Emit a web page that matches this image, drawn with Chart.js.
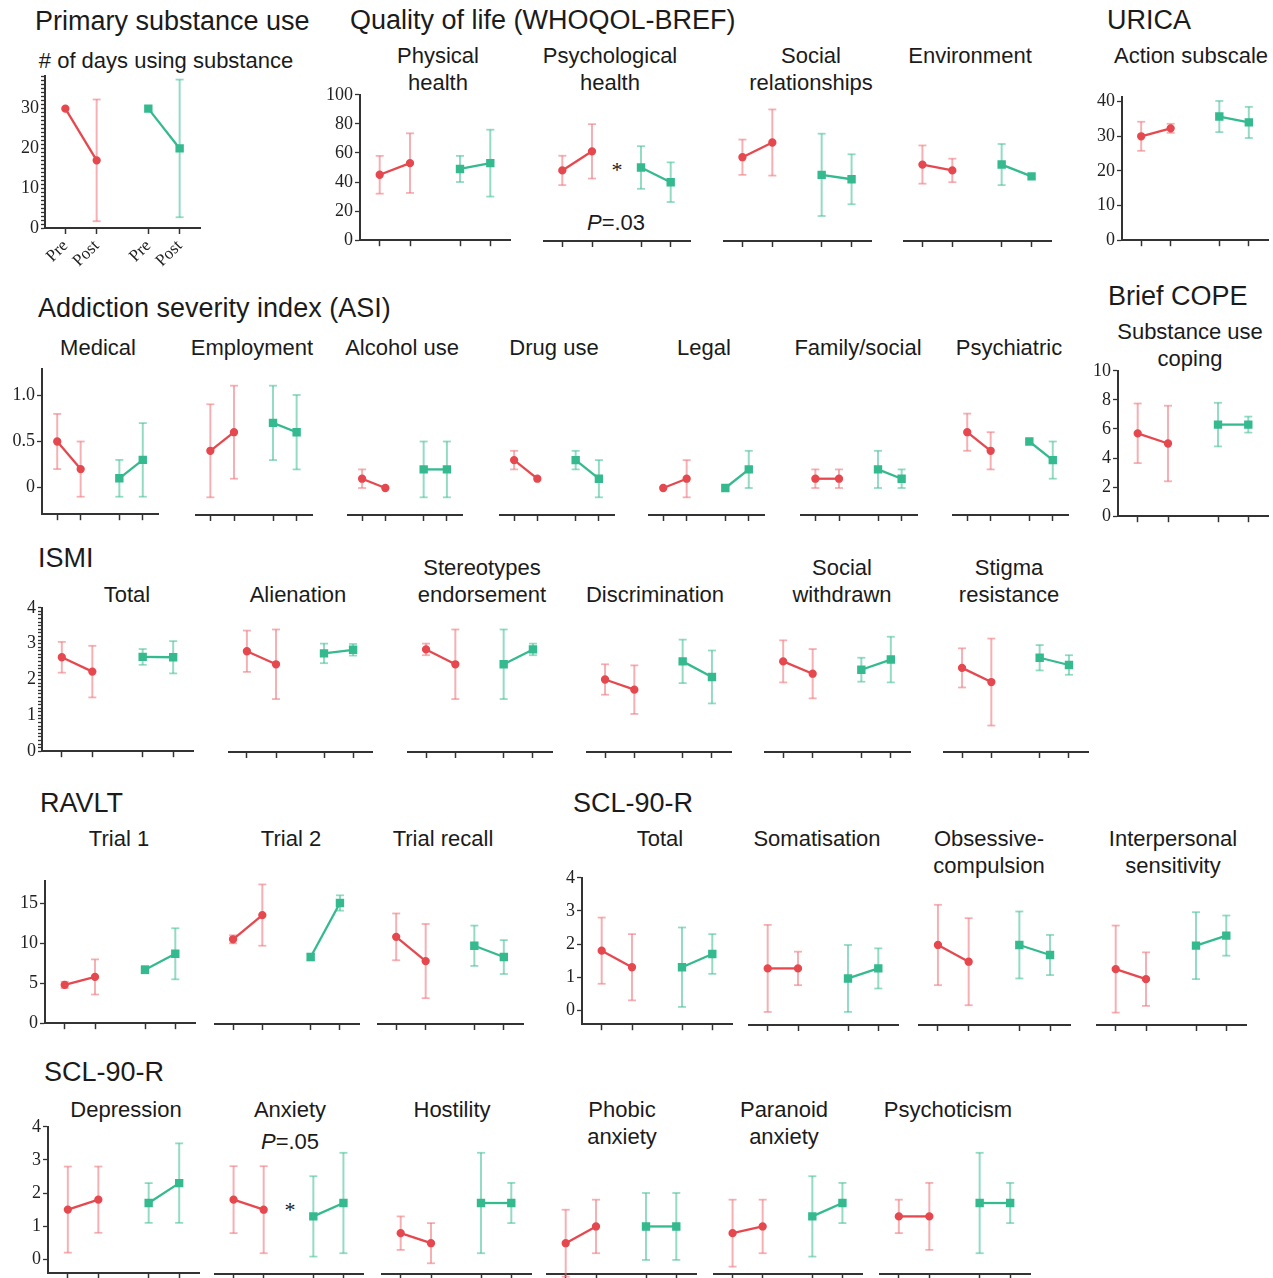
<!DOCTYPE html>
<html lang="en">
<head>
    <meta charset="UTF-8">
    <title>Pre/Post outcome scores</title>
    <script src="https://cdn.jsdelivr.net/npm/chart.js"></script>
    <style>
        body { margin: 0; background: #fff; }
        #fig { position: relative; width: 1273px; height: 1278px; overflow: hidden;
               font-family: "Liberation Sans", Arial, sans-serif; color: #1b1b1b; }
        #fig canvas { position: absolute; }
        .t { position: absolute; white-space: nowrap; }
        .sec { font-size: 27px; line-height: 26px; }
        .sub { font-size: 22px; line-height: 27px; text-align: center; transform: translateX(-50%); }
        .ast { font-family: "Liberation Serif", serif; font-size: 22px; line-height: 22px; transform: translateX(-50%); }
    </style>
</head>
<body>
<div id="fig"></div>

<script>
    // ---- data ----
    const xTickLabels = ['Pre', 'Post', 'Pre', 'Post'];
    const xPositions = [1, 2, 3.65, 4.65];

    const sectionTitles = ['Primary substance use', 'Quality of life (WHOQOL-BREF)', 'URICA',
        'Addiction severity index (ASI)', 'Brief COPE', 'ISMI', 'RAVLT', 'SCL-90-R', 'SCL-90-R'];

    const panelTitles = ['# of days using substance', 'Physical\nhealth', 'Psychological\nhealth',
        'Social\nrelationships', 'Environment', 'Action subscale',
        'Medical', 'Employment', 'Alcohol use', 'Drug use', 'Legal', 'Family/social', 'Psychiatric',
        'Substance use\ncoping',
        'Total', 'Alienation', 'Stereotypes\nendorsement', 'Discrimination', 'Social\nwithdrawn', 'Stigma\nresistance',
        'Trial 1', 'Trial 2', 'Trial recall',
        'Total', 'Somatisation', 'Obsessive-\ncompulsion', 'Interpersonal\nsensitivity',
        'Depression', 'Anxiety', 'Hostility', 'Phobic\nanxiety', 'Paranoid\nanxiety', 'Psychoticism'];

    const redPre      = [30, 45, 48, 57, 52, 30, 0.5, 0.4, 0.1, 0.3, 0, 0.1, 0.6, 5.7, 2.62, 2.78, 2.83, 2.0, 2.5, 2.32, 4.8, 10.5, 10.8, 1.8, 1.27, 1.97, 1.25, 1.5, 1.8, 0.8, 0.5, 0.8, 1.3];
    const redPreSd    = [0, 13, 10, 12, 13, 4.2, 0.3, 0.5, 0.1, 0.1, 0, 0.1, 0.2, 2.05, 0.43, 0.57, 0.16, 0.42, 0.58, 0.54, 0.4, 0.5, 2.9, 1.0, 1.3, 1.2, 1.3, 1.3, 1.0, 0.5, 1.0, 1.0, 0.5];
    const redPost     = [17, 53, 61, 67, 48, 32.3, 0.2, 0.6, 0, 0.1, 0.1, 0.1, 0.4, 5.0, 2.22, 2.42, 2.42, 1.72, 2.16, 1.93, 5.8, 13.5, 7.8, 1.3, 1.27, 1.47, 0.95, 1.8, 1.5, 0.5, 1.0, 1.0, 1.3];
    const redPostSd   = [15.3, 20.5, 18.5, 22.5, 8, 1.3, 0.3, 0.5, 0, 0, 0.2, 0.1, 0.2, 2.6, 0.72, 0.96, 0.96, 0.67, 0.68, 1.2, 2.2, 3.8, 4.6, 1.0, 0.5, 1.3, 0.8, 1.0, 1.3, 0.6, 0.8, 0.8, 1.0];
    const greenPre    = [30, 49, 50, 45, 52, 35.7, 0.1, 0.7, 0.2, 0.3, 0, 0.2, 0.5, 6.3, 2.63, 2.72, 2.42, 2.5, 2.27, 2.6, 6.7, 8.3, 9.7, 1.3, 0.97, 1.97, 1.95, 1.7, 1.3, 1.7, 1.0, 1.3, 1.7];
    const greenPreSd  = [0, 9, 14.5, 28, 14, 4.5, 0.2, 0.4, 0.3, 0.1, 0, 0.2, 0, 1.5, 0.22, 0.27, 0.96, 0.6, 0.33, 0.35, 0.45, 0.4, 2.5, 1.2, 1.0, 1.0, 1.0, 0.6, 1.2, 1.5, 1.0, 1.2, 1.5];
    const greenPost   = [20, 53, 40, 42, 44, 34, 0.3, 0.6, 0.2, 0.1, 0.2, 0.1, 0.3, 6.3, 2.62, 2.82, 2.83, 2.07, 2.55, 2.4, 8.7, 15.0, 8.3, 1.7, 1.27, 1.67, 2.25, 2.3, 1.7, 1.7, 1.0, 1.7, 1.7];
    const greenPostSd = [17.3, 23, 13.5, 17, 0, 4.5, 0.4, 0.4, 0.3, 0.2, 0.2, 0.1, 0.2, 0.55, 0.45, 0.16, 0.16, 0.73, 0.63, 0.27, 3.2, 0.95, 2.1, 0.6, 0.6, 0.6, 0.6, 1.2, 1.5, 0.6, 1.0, 0.6, 0.6];

    const daysTicks = [0, 10, 20, 30];
    const qolTicks = [0, 20, 40, 60, 80, 100];
    const uricaTicks = [0, 10, 20, 30, 40];
    const asiTicks = [0, 0.5, 1];
    const asiTickLabels = ['0', '0.5', '1.0'];
    const copeTicks = [0, 2, 4, 6, 8, 10];
    const ismiTicks = [0, 1, 2, 3, 4];
    const ravltTicks = [0, 5, 10, 15];
    const sclTicks = [0, 1, 2, 3, 4];

    const pNotes = ['.03', '.05'];

    // ---- layout & style ----
    const RED = '#e5484e', RED_ERR = 'rgba(238,112,117,0.55)';
    const GREEN = '#35ba8f', GREEN_ERR = 'rgba(60,190,148,0.55)';
    const AXIS = '#333';

    const axisGroups = {
        days:  { top: 75,   bottom: 228,  min: 0,     max: 38.25, ticks: daysTicks, minor: 1 },
        qol:   { top: 94,   bottom: 241,  min: 0,     max: 100,   ticks: qolTicks },
        urica: { top: 96,   bottom: 241,  min: 0,     max: 41.4,  ticks: uricaTicks },
        asi:   { top: 368,  bottom: 515,  min: -0.29, max: 1.29,  ticks: asiTicks, labels: asiTickLabels },
        cope:  { top: 370,  bottom: 517,  min: 0,     max: 10,    ticks: copeTicks },
        ismi:  { top: 607,  bottom: 752,  min: 0,     max: 4,     ticks: ismiTicks, minor: 0.1 },
        ravlt: { top: 880,  bottom: 1024, min: 0,     max: 17.85, ticks: ravltTicks },
        scl4:  { top: 877,  bottom: 1025, min: -0.42, max: 4,     ticks: sclTicks },
        scl5:  { top: 1126, bottom: 1274, min: -0.42, max: 4,     ticks: sclTicks }
    };

    // [axis line left, axis line right, group, show y axis]
    const panelBoxes = [
        [45, 200, 'days', true],
        [360, 510, 'qol', true], [543, 690, 'qol', false], [723, 871, 'qol', false], [903, 1051, 'qol', false],
        [1122, 1268, 'urica', true],
        [42, 158, 'asi', true], [195, 312, 'asi', false], [347, 462, 'asi', false], [499, 614, 'asi', false],
        [648, 764, 'asi', false], [800, 917, 'asi', false], [952, 1068, 'asi', false],
        [1118, 1268, 'cope', true],
        [42, 193, 'ismi', true], [228, 372, 'ismi', false], [407, 552, 'ismi', false],
        [586, 731, 'ismi', false], [764, 910, 'ismi', false], [943, 1088, 'ismi', false],
        [45, 195, 'ravlt', true], [214, 359, 'ravlt', false], [377, 523, 'ravlt', false],
        [582, 732, 'scl4', true], [748, 898, 'scl4', false], [918, 1070, 'scl4', false], [1096, 1246, 'scl4', false],
        [48, 199, 'scl5', true], [214, 363, 'scl5', false], [381, 531, 'scl5', false],
        [546, 696, 'scl5', false], [713, 862, 'scl5', false], [879, 1030, 'scl5', false]
    ];

    const sectionPos = [[35, 21], [350, 20], [1107, 20], [38, 308], [1108, 296], [38, 558], [40, 803], [573, 803], [44, 1072]];
    const panelTitlePos = [
        [166, 60], [438, 55], [610, 55], [811, 55], [970, 55], [1191, 55],
        [98, 347], [252, 347], [402, 347], [554, 347], [704, 347], [858, 347], [1009, 347],
        [1190, 331],
        [127, 594], [298, 594], [482, 567], [655, 594], [842, 567], [1009, 567],
        [119, 838], [291, 838], [443, 838],
        [660, 838], [817, 838], [989, 838], [1173, 838],
        [126, 1109], [290, 1109], [452, 1109], [622, 1109], [784, 1109], [948, 1109]
    ];
    const pNotePos = [[616, 222], [290, 1141]];
    const asteriskPos = [[617, 170], [290, 1210]];

    const fig = document.getElementById('fig');

    function addText(cls, html, x, y, lh) {
        const d = document.createElement('div');
        d.className = 't ' + cls;
        d.innerHTML = html;
        d.style.left = x + 'px';
        d.style.top = (y - lh / 2) + 'px';
        fig.appendChild(d);
    }

    sectionTitles.forEach((s, i) => addText('sec', s, sectionPos[i][0], sectionPos[i][1], 26));
    panelTitles.forEach((s, i) => addText('sub', s.replace('\n', '<br>'), panelTitlePos[i][0], panelTitlePos[i][1], 27));
    pNotes.forEach((s, i) => addText('sub', '<i>P</i>=' + s, pNotePos[i][0], pNotePos[i][1], 27));
    asteriskPos.forEach(p => addText('ast', '*', p[0], p[1], 22));

    Chart.defaults.font.family = '"Liberation Serif", "Times New Roman", serif';
    Chart.defaults.font.size = 18;
    Chart.defaults.color = '#222';

    function errorBar(x, m, sd, color) {
        return {
            data: [{ x: x, y: m - sd }, { x: x, y: m + sd }],
            showLine: true,
            borderColor: color,
            borderWidth: 2,
            pointStyle: 'line',
            pointRadius: 4,
            pointBorderColor: color,
            pointBorderWidth: 1.8,
            clip: false
        };
    }

    panelBoxes.forEach((box, i) => {
        const [left, right, gName, showY] = box;
        const g = axisGroups[gName];
        const showX = gName === 'days';
        const YW = showY ? 50 : 0;
        const PT = 12, PR = 14;
        const XH = showX ? 52 : 12;

        const canvas = document.createElement('canvas');
        canvas.width = right - left + YW + PR;
        canvas.height = g.bottom - g.top + PT + XH;
        canvas.style.left = (left - YW) + 'px';
        canvas.style.top = (g.top - PT) + 'px';
        fig.appendChild(canvas);

        // means first so they are drawn on top of the error bars
        const datasets = [
            {
                data: [{ x: xPositions[0], y: redPre[i] }, { x: xPositions[1], y: redPost[i] }],
                showLine: true, borderColor: RED, borderWidth: 2.3,
                pointStyle: 'circle', pointRadius: 3, pointBackgroundColor: RED, pointBorderColor: RED,
                clip: false
            },
            {
                data: [{ x: xPositions[2], y: greenPre[i] }, { x: xPositions[3], y: greenPost[i] }],
                showLine: true, borderColor: GREEN, borderWidth: 2.3,
                pointStyle: 'rect', pointRadius: 4.3, pointBackgroundColor: GREEN, pointBorderColor: GREEN,
                clip: false
            }
        ];
        [[redPre, redPreSd, RED_ERR], [redPost, redPostSd, RED_ERR],
         [greenPre, greenPreSd, GREEN_ERR], [greenPost, greenPostSd, GREEN_ERR]].forEach((s, k) => {
            if (s[1][i] > 0) datasets.push(errorBar(xPositions[k], s[0][i], s[1][i], s[2]));
        });

        new Chart(canvas, {
            type: 'scatter',
            data: { datasets },
            options: {
                responsive: false,
                animation: false,
                events: [],
                layout: { padding: { top: PT, right: PR, left: 0, bottom: 0 }, autoPadding: false },
                plugins: { legend: { display: false }, tooltip: { enabled: false } },
                scales: {
                    x: {
                        type: 'linear',
                        min: 0.35, max: 5.3,
                        bounds: 'data',
                        afterBuildTicks: s => { s.ticks = xPositions.map(v => ({ value: v })); },
                        afterFit: s => { s.height = XH; },
                        border: { display: true, color: AXIS, width: 2 },
                        grid: { drawOnChartArea: false, drawTicks: true, tickLength: 6, tickColor: AXIS, tickWidth: 1.5 },
                        ticks: {
                            display: showX,
                            autoSkip: false,
                            minRotation: 45, maxRotation: 45,
                            padding: 2,
                            font: { size: 17 },
                            callback: (v, idx) => xTickLabels[idx]
                        }
                    },
                    y: {
                        display: showY,
                        min: g.min, max: g.max,
                        bounds: 'data',
                        afterBuildTicks: s => {
                            let vals = g.ticks.slice();
                            if (g.minor) {
                                vals = [];
                                const n = Math.floor((g.max - g.min) / g.minor + 1e-6);
                                for (let k = 0; k <= n; k++) vals.push(+(g.min + k * g.minor).toFixed(3));
                            }
                            s.ticks = vals.map(v => ({ value: v }));
                        },
                        afterFit: s => { s.width = YW; },
                        border: { display: true, color: AXIS, width: 2 },
                        grid: { drawOnChartArea: false, drawTicks: true, tickLength: g.minor ? 4 : 5, tickColor: AXIS, tickWidth: 1.3 },
                        ticks: {
                            autoSkip: false,
                            padding: 2,
                            callback: v => {
                                const j = g.ticks.findIndex(t => Math.abs(t - v) < 1e-6);
                                if (j < 0) return '';
                                return g.labels ? g.labels[j] : String(g.ticks[j]);
                            }
                        }
                    }
                }
            }
        });
    });
</script>
</body>
</html>
